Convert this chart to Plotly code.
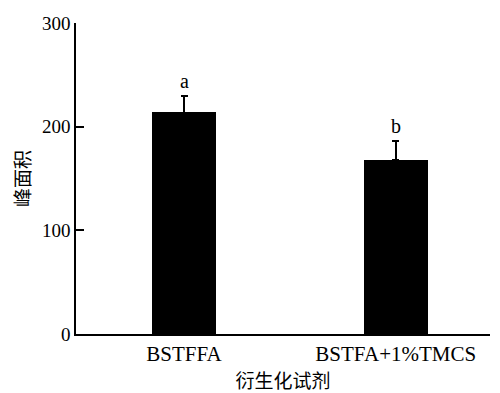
import plotly.graph_objects as go

categories = ["BSTFFA", "BSTFA+1%TMCS"]
values = [213.8, 167.8]
errors = [16.0, 18.6]
letters = ["a", "b"]
y_ticks = [0, 100, 200, 300]

serif = "Liberation Serif, Times New Roman, serif"
cjk = "Noto Sans CJK SC, sans-serif"

fig = go.Figure()
fig.add_trace(go.Bar(
    x=[0, 1], y=values, width=0.304,
    marker=dict(color="black", line=dict(width=0)),
    error_y=dict(type="data", array=errors, arrayminus=[0, 0], symmetric=False,
                 color="black", thickness=1.5, width=3.5),
    showlegend=False,
))

for i, (v, e, t) in enumerate(zip(values, errors, letters)):
    fig.add_annotation(x=i, y=v + e + 2, text=t, showarrow=False,
                       yanchor="bottom", font=dict(family=serif, size=20, color="black"))

fig.update_layout(
    width=500, height=393,
    margin=dict(l=76, r=10, t=23, b=59),
    plot_bgcolor="white", paper_bgcolor="white",
    bargap=0,
)
fig.update_xaxes(
    range=[-0.51, 1.445], tickvals=[0, 1], ticktext=categories,
    showline=True, linecolor="black", linewidth=1.5, ticks="",
    showgrid=False, zeroline=False,
    tickfont=dict(family=serif, size=21, color="black"),
    title=dict(text="衍生化试剂", font=dict(family=cjk, size=19, color="black"), standoff=4),
)
fig.update_yaxes(
    range=[0, 300], tickvals=y_ticks,
    showline=True, linecolor="black", linewidth=1.5,
    ticks="inside", ticklen=8, tickwidth=1.5, tickcolor="black",
    showgrid=False, zeroline=False,
    tickfont=dict(family=serif, size=19, color="black"),
    title=dict(text="峰面积", font=dict(family=cjk, size=19, color="black"), standoff=6),
)

fig.write_html("out.html", config={"displayModeBar": False},
               post_script="document.body.style.margin='0';document.body.style.overflow='hidden';")
